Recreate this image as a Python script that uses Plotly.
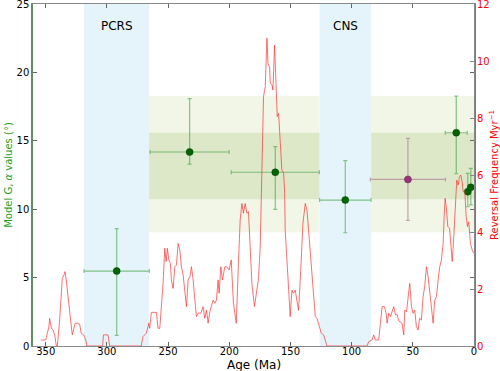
import plotly.graph_objects as go

# ---- Reversal frequency (right axis, Myr^-1) ----
rf_age = [354, 350, 349, 347.4, 346.8, 345.4, 344, 342.7, 341.3, 340.5, 338.6, 337.3, 336.5, 335.1, 334.3,
          333.2, 331.8, 330.4, 328.3, 327.2, 325.9, 324.2, 322.3, 321, 319, 317.3, 316.3, 303.5, 302.8, 299.1,
          297.7, 272, 270.5, 269.1, 267.8, 266.4, 265.8, 265, 263.7, 259.6, 258.2, 256.8, 255.5, 254.1, 252.7,
          251.6, 250.6, 249.4, 248.1, 247.3, 245.9, 244.5, 243.2, 241.8, 240.4, 239.1, 237.7, 236.3, 235,
          233.6, 232.2, 230.9, 229.5, 228.1, 226.8, 225.4, 223.2, 221.4, 220, 218.6, 217.3, 215.9, 214.6,
          213.2, 211.8, 210.5, 209.1, 208.3, 206.9, 205.6, 203.6, 202, 200.1, 198.4, 196.6, 194.3, 192.5,
          191.1, 189.7, 188.4, 187, 185.6, 184.3, 182.9, 181.5, 179.4, 177.4, 176.1, 174.7, 173.3, 172, 170.6,
          169.2, 168.4, 167.1, 166.5, 165.1, 164.3, 163, 162.4, 161.6, 160.8, 159.7, 158.3, 157, 155.6, 154.8,
          154.3, 152.9, 151.6, 150.2, 148.8, 147.5, 146.1, 145.3, 144.3, 143.4, 142, 140.5, 139.8, 137.9,
          136.5, 135.2, 133, 131.1, 129.7, 128.3, 127, 125.6, 124.8, 122.9, 121.5, 120.1, 87.4, 86.1, 83.3,
          82, 80.6, 77.9, 76.5, 75.1, 73.2, 71.8, 71, 69.7, 68.3, 66.9, 65.6, 64.2, 62.8, 61.5, 60.1, 58.8,
          57.4, 56.6, 55.2, 53.8, 52.5, 51.1, 49.8, 48.4, 47.1, 45.7, 44.4, 43, 41.6, 40.3, 38.9, 37.5, 36.2,
          34.8, 33.4, 32.1, 30.7, 29.3, 28, 26.6, 25.2, 24.4, 23.6, 22.7, 21.4, 20, 18.7, 17.8, 16.5, 15.1,
          14.1, 12.9, 11.9, 10.8, 9.7, 8.8, 7.5, 6.4, 5.3, 4.3, 2.9, 1.5, 0.2]
rf_val = [0.21, 0.21, 0.39, 0.68, 0.97, 0.62, 0.56, 0.39, 0.0, 0.0, 0.91, 1.73, 2.37, 2.49, 2.61,
          2.32, 1.67, 1.2, 0.39, 0.56, 0.8, 0.8, 0.77, 0.45, 0.39, 0.21, 0.0, 0.0, 0.39, 0.39,
          0.0, 0.0, 0.33, 0.39, 0.45, 0.68, 0.8, 0.62, 1.18, 1.18, 0.62, 0.62, 1.38, 2.2, 3.43,
          2.96, 3.43, 3.02, 2.9, 2.32, 2.02, 2.78, 2.84, 3.6, 3.37, 2.78, 2.49, 1.85, 1.38,
          2.32, 2.43, 2.78, 2.32, 1.61, 1.03, 1.15, 1.15, 1.38, 0.97, 1.26, 0.8, 1.2, 1.38,
          1.61, 1.5, 1.61, 2.32, 1.85, 2.78, 2.32, 2.78, 2.78, 2.67, 3.02, 1.5, 0.8, 2.9,
          4.42, 5.0, 4.66, 5.0, 4.66, 4.71, 3.6, 2.2, 1.38, 2.08, 2.37, 3.48, 6.41, 8.75, 9.1,
          10.8, 9.92, 9.8, 9.22, 9.16, 8.98, 10.56, 9.92, 8.75, 8.05, 8.16, 6.99, 6.18, 6.06, 5.47,
          4.07, 2.9, 1.96, 1.03, 1.96, 1.85, 1.96, 1.73, 1.4, 1.25, 2.3, 3.6, 4.31, 5.0,
          4.77, 4.07, 2.9, 1.73, 1.03, 0.97, 0.75, 0.6, 0.45, 0.39, 0.21, 0.0, 0.0, 0.15, 0.21,
          0.39, 0.21, 0.21, 0.8, 1.38, 1.38, 1.15, 0.8, 1.15, 1.03, 1.2, 1.38, 1.1, 1.1, 0.88, 0.85, 0.8,
          0.39, 1.26, 1.2, 1.85, 2.2, 1.38, 1.15, 1.26, 0.68, 0.56, 0.97, 0.91, 1.73, 2.08, 2.78, 2.43, 1.85,
          1.26, 0.8, 1.61, 1.73, 2.32, 2.78, 3.02, 3.6, 4.54, 5.18, 4.89, 4.19, 4.13, 3.54, 2.96, 3.84, 5.36,
          5.82, 5.65, 5.94, 6.0, 5.76, 5.41, 5.41, 4.54, 4.19, 4.36, 3.6, 3.37, 3.25]

# ---- Model G alpha values (left axis, degrees) ----
g_age = [292.0, 232.4, 162.4, 105.2, 14.5, 5.1, 2.6]
g_age_err = [26.7, 32.3, 36.0, 21.0, 9.0, 1.5, 1.0]
g_alpha = [5.48, 14.18, 12.7, 10.67, 15.59, 11.28, 11.6]
g_err_plus = [3.1, 3.9, 1.87, 2.88, 2.68, 1.34, 1.39]
g_err_minus = [4.7, 0.88, 2.71, 2.39, 3.0, 1.1, 1.29]

m_age = [54.0]
m_age_err = [30.7]
m_alpha = [12.18]
m_err_plus = [3.0]
m_err_minus = [3.0]

# superchrons
superchron_names = ["PCRS", "CNS"]
superchron_start = [318.7, 126.2]
superchron_end = [265.5, 84.1]

# alpha bands: (outer low, outer high), (inner low, inner high) and intervals
band_outer = [8.31, 18.27]
band_inner = [10.72, 15.59]
band_intervals = [(265.5, 126.2), (84.1, 0.0)]

x_ticks = [350, 300, 250, 200, 150, 100, 50, 0]
yl_ticks = [0, 5, 10, 15, 20, 25]
yr_ticks = [0, 2, 4, 6, 8, 10, 12]

fig = go.Figure()

shapes = []
for s, e in zip(superchron_start, superchron_end):
    shapes.append(dict(type="rect", xref="x", yref="paper", x0=s, x1=e, y0=0, y1=1,
                       fillcolor="#e5f4fa", line=dict(width=0), layer="below"))
for a, b in band_intervals:
    shapes.append(dict(type="rect", xref="x", yref="y", x0=a, x1=b, y0=band_outer[0], y1=band_outer[1],
                       fillcolor="#f1f6e7", line=dict(width=0), layer="below"))
    shapes.append(dict(type="rect", xref="x", yref="y", x0=a, x1=b, y0=band_inner[0], y1=band_inner[1],
                       fillcolor="#dde8c9", line=dict(width=0), layer="below"))

fig.add_trace(go.Scatter(x=rf_age, y=rf_val, mode="lines", yaxis="y2",
                         line=dict(color="rgba(255,50,50,0.7)", width=1), showlegend=False))

fig.add_trace(go.Scatter(
    x=g_age, y=g_alpha, mode="markers", yaxis="y",
    marker=dict(color="#006400", size=7, line=dict(color="#004000", width=0.5)),
    error_x=dict(type="data", array=g_age_err, color="rgba(60,160,60,0.6)", thickness=1.2, width=2),
    error_y=dict(type="data", array=g_err_plus, arrayminus=g_err_minus, symmetric=False,
                 color="rgba(60,160,60,0.6)", thickness=1.2, width=2),
    showlegend=False))

fig.add_trace(go.Scatter(
    x=m_age, y=m_alpha, mode="markers", yaxis="y",
    marker=dict(color="#993377", size=7, line=dict(color="#602050", width=0.5)),
    error_x=dict(type="data", array=m_age_err, color="rgba(170,110,140,0.6)", thickness=1.2, width=2),
    error_y=dict(type="data", array=m_err_plus, arrayminus=m_err_minus, symmetric=False,
                 color="rgba(170,110,140,0.6)", thickness=1.2, width=2),
    showlegend=False))

annotations = []
for n, s, e in zip(superchron_names, superchron_start, superchron_end):
    annotations.append(dict(x=(s + e) / 2, y=23.4, xref="x", yref="y", text=n, showarrow=False,
                            font=dict(size=12, color="black")))
annotations.append(dict(x=0.5, y=0, xref="paper", yref="paper", text="Age (Ma)", showarrow=False,
                        xanchor="center", yanchor="top", yshift=-10, font=dict(size=12, color="black")))

font_family = "DejaVu Sans"
fig.update_layout(
    width=500, height=371,
    margin=dict(l=33, r=26, t=4, b=25, autoexpand=False),
    paper_bgcolor="white", plot_bgcolor="white",
    font=dict(family=font_family, size=10, color="black"),
    shapes=shapes, annotations=annotations,
    xaxis=dict(range=[360.4, 0], tickvals=x_ticks, ticks="inside", ticklen=4, tickcolor="#666",
               showline=True, linecolor="#888", linewidth=1, mirror="ticks", showgrid=False,
               zeroline=False, tickfont=dict(size=10, color="black"), automargin=False,
               ticklabelstandoff=-4),
    yaxis=dict(range=[0, 25], tickvals=yl_ticks, ticks="inside", ticklen=4, tickcolor="#666",
               showline=True, linecolor="#5f8f5f", linewidth=1.5, mirror="ticks", showgrid=False,
               zeroline=False, tickfont=dict(size=10, color="black"), automargin=False,
               ticklabeloverflow="allow",
               title=dict(text="Model G, <i>α</i> values (°)", font=dict(size=10, color="#22a022"), standoff=2)),
    yaxis2=dict(range=[0, 12], tickvals=yr_ticks, overlaying="y", side="right", ticks="inside",
                ticklen=4, tickcolor="#888", showline=True, linecolor="#888", linewidth=1,
                showgrid=False, zeroline=False, tickfont=dict(size=10, color="red"), automargin=False,
                ticklabeloverflow="allow",
                title=dict(text="Reversal Frequency Myr<sup>−1</sup>", font=dict(size=10, color="red"), standoff=2)),
)

fig.write_html("out.html", config={"displayModeBar": False},
               post_script="document.body.style.margin='0';document.body.style.overflow='hidden';")
